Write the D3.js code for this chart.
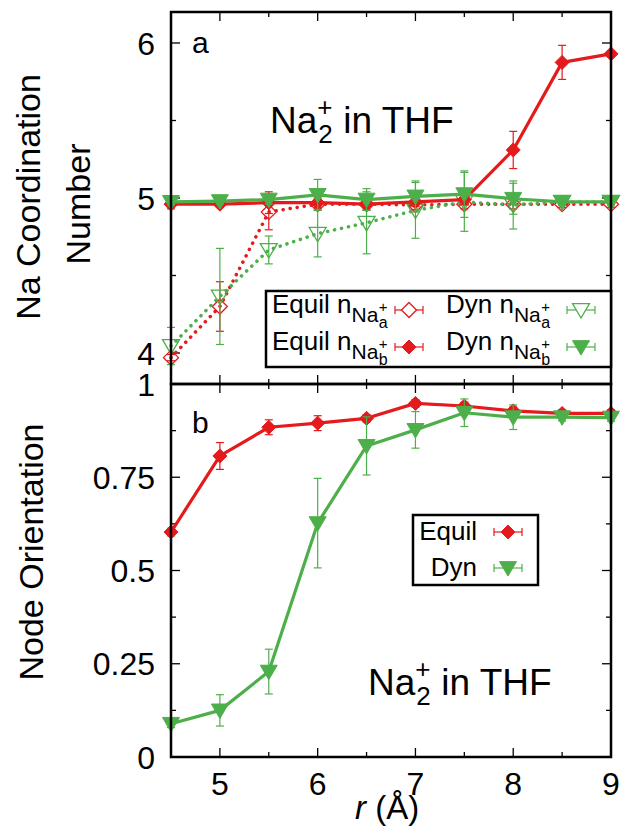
<!DOCTYPE html>
<html><head><meta charset="utf-8">
<script src="https://cdn.jsdelivr.net/npm/d3@7"></script>
<style>
html,body{margin:0;padding:0;background:#fff;}
svg text{font-family:"Liberation Sans",Arial,sans-serif;fill:#000;}
</style></head>
<body><svg id="c" width="626" height="828"></svg>
<script>
// ---- data ----
const rValues = [4.5, 5, 5.5, 6, 6.5, 7, 7.5, 8, 8.5, 9];
// Panel a: Na coordination number
const equilNaA = [3.97, 4.30, 4.91, 4.96, 4.96, 4.955, 4.96, 4.96, 4.96, 4.96];
const equilNaAErr = [0.02, 0.16, 0.115, 0.03, 0.03, 0.03, 0.03, 0.03, 0.02, 0.02];
const equilNaB = [4.96, 4.96, 4.97, 4.97, 4.96, 4.975, 4.99, 5.31, 5.875, 5.93];
const equilNaBErr = [0.03, 0.02, 0.07, 0.03, 0.04, 0.03, 0.03, 0.12, 0.11, 0.02];
const dynNaA = [4.045, 4.365, 4.665, 4.77, 4.84, 4.92, 4.975, 4.955, 4.975, 4.975];
const dynNaAErr = [0.12, 0.31, 0.09, 0.15, 0.2, 0.18, 0.19, 0.155, 0.02, 0.02];
const dynNaB = [4.975, 4.98, 4.99, 5.02, 4.99, 5.01, 5.025, 4.995, 4.975, 4.975];
const dynNaBErr = [0.02, 0.02, 0.03, 0.1, 0.07, 0.1, 0.15, 0.1, 0.02, 0.02];
// Panel b: node orientation
const equilOrient = [0.603, 0.807, 0.884, 0.895, 0.908, 0.948, 0.941, 0.928, 0.921, 0.921];
const equilOrientErr = [0.01, 0.036, 0.02, 0.02, 0.01, 0.01, 0.01, 0.01, 0.01, 0.01];
const dynOrient = [0.089, 0.125, 0.229, 0.627, 0.834, 0.877, 0.923, 0.911, 0.911, 0.91];
const dynOrientErr = [0.01, 0.042, 0.06, 0.12, 0.078, 0.049, 0.037, 0.033, 0.01, 0.01];
// ticks
const xMajorTicks = [5, 6, 7, 8, 9];
const xMinorTicks = [4.5, 5.5, 6.5, 7.5, 8.5];
const yTopMajor = [4, 5, 6];
const yTopMinor = [4.5, 5.5];
const yBotMajor = [0, 0.25, 0.5, 0.75, 1];
const yBotMinor = [0.125, 0.375, 0.625, 0.875];

const RED = "#e41a1c", GREEN = "#4daf4a";
const svg = d3.select("#c");

const L = 171, R = 611, T = 12, M = 384, B = 757;
const x = d3.scaleLinear().domain([4.5, 9]).range([L, R]);
const yTop = d3.scaleLinear().domain([3.8, 6.2]).range([M, T]);
const yBot = d3.scaleLinear().domain([0, 1]).range([B, M]);

const diamond = (s) => `M0,${-s}L${s},0L0,${s}L${-s},0Z`;
const triDown = (s) => `M${-s},${-s*0.75}L${s},${-s*0.75}L0,${s*0.95}Z`;

function panelAxes(y, top, bottom, major, minor, fmt, showX) {
  const g = svg.append("g");
  const tk = (v, len, yy) => {
    g.append("line").attr("x1", L).attr("x2", L + len).attr("y1", yy).attr("y2", yy).attr("stroke", "#000").attr("stroke-width", 1.3);
    g.append("line").attr("x1", R).attr("x2", R - len).attr("y1", yy).attr("y2", yy).attr("stroke", "#000").attr("stroke-width", 1.3);
  };
  major.forEach(v => tk(v, 9, y(v)));
  minor.forEach(v => tk(v, 5, y(v)));
  const xt = (v, len) => {
    g.append("line").attr("x1", x(v)).attr("x2", x(v)).attr("y1", top).attr("y2", top + len).attr("stroke", "#000").attr("stroke-width", 1.3);
    g.append("line").attr("x1", x(v)).attr("x2", x(v)).attr("y1", bottom).attr("y2", bottom - len).attr("stroke", "#000").attr("stroke-width", 1.3);
  };
  xMajorTicks.forEach(v => xt(v, 9));
  xMinorTicks.forEach(v => xt(v, 5));
  major.forEach(v => {
    g.append("text").attr("x", 155).attr("y", y(v)).attr("dy", "0.36em").attr("text-anchor", "end")
      .attr("font-size", 32).text(fmt(v));
  });
  if (showX) {
    xMajorTicks.forEach(v => {
      g.append("text").attr("x", x(v)).attr("y", 795).attr("text-anchor", "middle").attr("font-size", 32).text(v);
    });
  }
}

function errorBars(g, xs, ys, es, y, color) {
  xs.forEach((xv, i) => {
    const px = x(xv), y1 = y(ys[i] - es[i]), y2 = y(ys[i] + es[i]);
    g.append("line").attr("x1", px).attr("x2", px).attr("y1", y1).attr("y2", y2).attr("stroke", color).attr("stroke-width", 1.2);
    [y1, y2].forEach(yy => g.append("line").attr("x1", px - 4).attr("x2", px + 4).attr("y1", yy).attr("y2", yy).attr("stroke", color).attr("stroke-width", 1.2));
  });
}

function series(y, ys, es, color, dotted, shape, filled) {
  const g = svg.append("g");
  errorBars(g, rValues, ys, es, y, color);
  const line = d3.line().x((d, i) => x(rValues[i])).y(d => y(d));
  g.append("path").attr("d", line(ys)).attr("fill", "none").attr("stroke", color)
    .attr("stroke-width", dotted ? 3.5 : 3.2)
    .attr("stroke-dasharray", dotted ? "0.1 7" : null)
    .attr("stroke-linecap", dotted ? "round" : "butt")
    .attr("stroke-linejoin", "round");
  ys.forEach((v, i) => {
    g.append("path").attr("transform", `translate(${x(rValues[i])},${y(v)})`)
      .attr("d", shape)
      .attr("fill", filled ? color : "none").attr("stroke", color).attr("stroke-width", filled ? 1 : 1.3);
  });
}

// ---- Panel a ----
panelAxes(yTop, T, M, yTopMajor, yTopMinor, d3.format("d"), false);
series(yTop, equilNaA, equilNaAErr, RED, true, diamond(7.5), false);
series(yTop, dynNaA, dynNaAErr, GREEN, true, triDown(8.5), false);
series(yTop, equilNaB, equilNaBErr, RED, false, diamond(7), true);
series(yTop, dynNaB, dynNaBErr, GREEN, false, triDown(8.5), true);

// ---- Panel b ----
panelAxes(yBot, M, B, yBotMajor, yBotMinor, v => String(v), true);
series(yBot, equilOrient, equilOrientErr, RED, false, diamond(7), true);
series(yBot, dynOrient, dynOrientErr, GREEN, false, triDown(8.5), true);

// borders
svg.append("rect").attr("x", L).attr("y", T).attr("width", R - L).attr("height", M - T).attr("fill", "none").attr("stroke", "#000").attr("stroke-width", 2.5);
svg.append("rect").attr("x", L).attr("y", M).attr("width", R - L).attr("height", B - M).attr("fill", "none").attr("stroke", "#000").attr("stroke-width", 2.5);

// panel letters
svg.append("text").attr("x", 192).attr("y", 53).attr("font-size", 30).text("a");
svg.append("text").attr("x", 192).attr("y", 433).attr("font-size", 30).text("b");

// Na2+ in THF labels
function naLabel(x0, yb) {
  const g = svg.append("g");
  const t1 = g.append("text").attr("x", x0).attr("y", yb).attr("font-size", 37).text("Na");
  const w = t1.node().getComputedTextLength();
  g.append("text").attr("x", x0 + w + 1).attr("y", yb + 10).attr("font-size", 26).text("2");
  g.append("text").attr("x", x0 + w + 0).attr("y", yb - 17).attr("font-size", 26).text("+");
  g.append("text").attr("x", x0 + w + 26).attr("y", yb).attr("font-size", 37).text("in THF");
}
naLabel(270, 133);
naLabel(368, 695);

// axis titles
svg.append("text").attr("transform", "translate(40,197) rotate(-90)").attr("text-anchor", "middle").attr("font-size", 34).text("Na Coordination");
svg.append("text").attr("transform", "translate(90,204) rotate(-90)").attr("text-anchor", "middle").attr("font-size", 34).text("Number");
svg.append("text").attr("transform", "translate(43,552) rotate(-90)").attr("text-anchor", "middle").attr("font-size", 34).text("Node Orientation");
const xtl = svg.append("text").attr("x", 355).attr("y", 819).attr("font-size", 33);
xtl.append("tspan").attr("font-style", "italic").text("r");
xtl.append("tspan").text(" (Å)");

// ---- legends ----
function legendSample(cx, cy, color, shape, filled) {
  const g = svg.append("g");
  g.append("line").attr("x1", cx - 14).attr("x2", cx + 14).attr("y1", cy).attr("y2", cy).attr("stroke", color).attr("stroke-width", 1.2);
  [cx - 14, cx + 14].forEach(xx => g.append("line").attr("x1", xx).attr("x2", xx).attr("y1", cy - 4).attr("y2", cy + 4).attr("stroke", color).attr("stroke-width", 1.2));
  g.append("path").attr("transform", `translate(${cx},${cy})`).attr("d", shape)
    .attr("fill", filled ? color : "#fff").attr("stroke", color).attr("stroke-width", filled ? 1 : 1.3);
}
function legLabel(x0, yb, label, sub) {
  const t = svg.append("text").attr("x", x0).attr("y", yb).attr("font-size", 26);
  t.append("tspan").text(label + " n");
  t.append("tspan").attr("font-size", 21).attr("dy", 9).text("Na");
  const w = t.node().getComputedTextLength();
  svg.append("text").attr("x", x0 + w + 0.5).attr("y", yb - 1).attr("font-size", 15).text("+");
  svg.append("text").attr("x", x0 + w + 0.5).attr("y", yb + 15).attr("font-size", 16).text(sub);
}
svg.append("rect").attr("x", 266).attr("y", 291).attr("width", 345).attr("height", 76).attr("fill", "#fff").attr("stroke", "#000").attr("stroke-width", 2.5);
const legA = [
  {label: "Equil", sub: "a", tx: 272, cx: 409, cy: 310, color: RED, shape: diamond(7.5), filled: false},
  {label: "Equil", sub: "b", tx: 272, cx: 409, cy: 347, color: RED, shape: diamond(7), filled: true},
  {label: "Dyn", sub: "a", tx: 446, cx: 581, cy: 310, color: GREEN, shape: triDown(8.5), filled: false},
  {label: "Dyn", sub: "b", tx: 446, cx: 581, cy: 347, color: GREEN, shape: triDown(8.5), filled: true}
];
legA.forEach(d => {
  legLabel(d.tx, d.cy + 3, d.label, d.sub);
  legendSample(d.cx, d.cy, d.color, d.shape, d.filled);
});

svg.append("rect").attr("x", 413).attr("y", 515).attr("width", 125).attr("height", 70).attr("fill", "#fff").attr("stroke", "#000").attr("stroke-width", 2.5);
[{label: "Equil", cy: 532, color: RED, shape: diamond(7)}, {label: "Dyn", cy: 568, color: GREEN, shape: triDown(8.5)}].forEach(d => {
  svg.append("text").attr("x", 477).attr("y", d.cy + 8).attr("text-anchor", "end").attr("font-size", 26).text(d.label);
  legendSample(508, d.cy, d.color, d.shape, true);
});
</script></body></html>
